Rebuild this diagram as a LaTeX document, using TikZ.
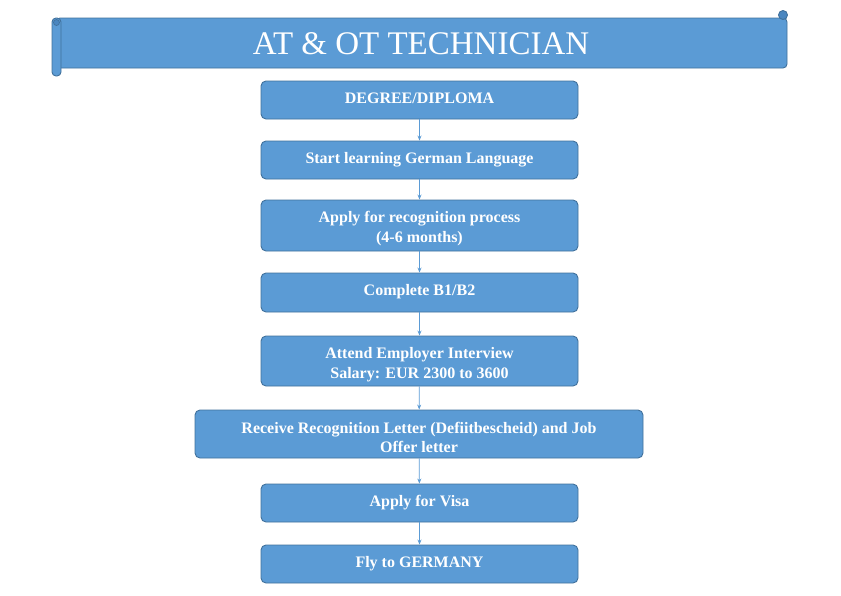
\documentclass[tikz,border=0pt]{standalone}
\usepackage{fontspec}
\usetikzlibrary{arrows.meta}
\setmainfont{Liberation Serif}
\definecolor{boxfill}{HTML}{5B9BD5}
\definecolor{boxline}{HTML}{41719C}
\definecolor{curl}{HTML}{4A86C0}
\begin{document}
\begin{tikzpicture}[x=1pt,y=-1pt,
  stepbox/.style={draw=boxline, line width=0.9pt, fill=boxfill, rounded corners=5pt,
    inner sep=0pt, minimum width=317pt},
  steptext/.style={text=white, font=\bfseries\fontsize{16}{20}\selectfont,
    inner sep=0pt, anchor=base},
  flow/.style={draw=boxfill, line width=0.7pt, -{Stealth[length=5pt,width=4pt]}}]
\useasboundingbox (0,0) rectangle (841,595);
% banner
\draw[boxline, line width=0.9pt, fill=boxfill, rounded corners=4pt]
  (56,18) -- (779,18) -- (787,18) -- (787,68) -- (56,68) -- cycle;
\draw[boxline, line width=0.9pt, fill=curl] (783,15) circle (4.5pt);
\draw[boxline, line width=0.9pt, fill=boxfill, rounded corners=4pt] (52,18) rectangle (61,76);
\draw[boxline, line width=0.7pt, fill=curl] (56.5,22.5) circle (3pt);
\node[text=white, font=\fontsize{33}{40}\selectfont, inner sep=0pt] (title) at (421,44) {AT \& OT TECHNICIAN};
% steps
\node[stepbox, minimum height=38pt] (s1) at (419.5,100) {};
\node[stepbox, minimum height=38pt] (s2) at (419.5,160) {};
\node[stepbox, minimum height=51pt] (s3) at (419.5,225.5) {};
\node[stepbox, minimum height=39pt] (s4) at (419.5,292.5) {};
\node[stepbox, minimum height=50pt] (s5) at (419.5,361) {};
\node[stepbox, minimum height=48pt, minimum width=448pt] (s6) at (419,434) {};
\node[stepbox, minimum height=38pt] (s7) at (419.5,503) {};
\node[stepbox, minimum height=38pt] (s8) at (419.5,564) {};
% texts
\node[steptext] (t1) at ([yshift=-3.3pt]s1.center) {DEGREE/DIPLOMA};
\node[steptext] (t2) at ([yshift=-3.3pt]s2.center) {Start learning German Language};
\node[steptext] (t3a) at ([yshift=2.8pt]s3.center) {Apply for recognition process};
\node[steptext] (t3b) at ([yshift=-17.2pt]s3.center) {(4-6 months)};
\node[steptext] (t4) at ([yshift=-3.3pt]s4.center) {Complete B1/B2};
\node[steptext] (t5a) at ([yshift=2.7pt]s5.center) {Attend Employer Interview};
\node[steptext] (t5b) at ([yshift=-17.3pt]s5.center) {Salary: EUR 2300 to 3600};
\node[steptext] (t6a) at ([yshift=0.7pt]s6.center) {Receive Recognition Letter (Defiitbescheid) and Job};
\node[steptext] (t6b) at ([yshift=-18.7pt]s6.center) {Offer letter};
\node[steptext] (t7) at ([yshift=-3.3pt]s7.center) {Apply for Visa};
\node[steptext] (t8) at ([yshift=-3.3pt]s8.center) {Fly to GERMANY};
\foreach \a/\b in {s1/s2,s2/s3,s3/s4,s4/s5,s5/s6,s6/s7,s7/s8}
  \draw[flow] (\a) -- (\b);
\end{tikzpicture}
\end{document}
